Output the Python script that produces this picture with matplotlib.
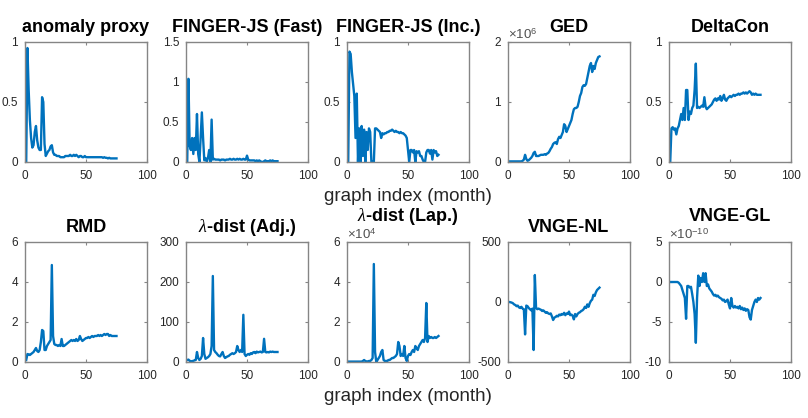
import numpy as np
import matplotlib
matplotlib.use('Agg')
import matplotlib.pyplot as plt

# graph index (month)
months = np.arange(1, 76)

anomaly_proxy = [0.0, 0.95, 0.6, 0.35, 0.2, 0.12, 0.14, 0.25, 0.3, 0.18,
                 0.12, 0.1, 0.1, 0.54, 0.5, 0.15, 0.05, 0.07, 0.09, 0.1,
                 0.13, 0.14, 0.08, 0.06, 0.06, 0.05, 0.05, 0.05, 0.04, 0.04,
                 0.04, 0.04, 0.05, 0.05, 0.05, 0.05, 0.06, 0.05, 0.05, 0.06,
                 0.05, 0.06, 0.05, 0.04, 0.05, 0.05, 0.04, 0.04, 0.05, 0.04,
                 0.04, 0.04, 0.04, 0.04, 0.04, 0.04, 0.04, 0.04, 0.04, 0.04,
                 0.04, 0.04, 0.04, 0.035, 0.04, 0.035, 0.035, 0.03, 0.035, 0.03,
                 0.03, 0.03, 0.03, 0.03, 0.03]

finger_fast = [0.0, 1.04, 0.2, 0.15, 0.3, 0.1, 0.3, 0.15, 0.6, 0.1,
               0.0, 0.3, 0.62, 0.3, 0.02, 0.05, 0.0, 0.05, 0.15, 0.0,
               0.53, 0.03, 0.04, 0.03, 0.03, 0.03, 0.03, 0.02, 0.03, 0.03,
               0.03, 0.02, 0.03, 0.03, 0.03, 0.04, 0.03, 0.03, 0.04, 0.03,
               0.03, 0.04, 0.03, 0.04, 0.03, 0.03, 0.04, 0.03, 0.03, 0.08,
               0.03, 0.02, 0.02, 0.02, 0.02, 0.02, 0.01, 0.02, 0.01, 0.02,
               0.01, 0.0, 0.0, 0.01, 0.02, 0.01, 0.01, 0.01, 0.02, 0.01,
               0.02, 0.01, 0.01, 0.01, 0.01]

finger_inc = [0.0, 0.92, 0.9, 0.75, 0.65, 0.55, 0.2, 0.57, 0.0, 0.28,
              0.0, 0.3, 0.05, 0.27, 0.0, 0.25, 0.1, 0.28, 0.25, 0.0,
              0.0, 0.0, 0.28, 0.28, 0.27, 0.26, 0.25, 0.2, 0.24, 0.23,
              0.24, 0.24, 0.25, 0.25, 0.26, 0.26, 0.27, 0.26, 0.25, 0.26,
              0.25, 0.25, 0.24, 0.25, 0.24, 0.24, 0.23, 0.22, 0.2, 0.1,
              0.0, 0.1, 0.1, 0.08, 0.1, 0.0, 0.09, 0.08, 0.09, 0.05,
              0.05, 0.02, 0.0, 0.0, 0.08, 0.1, 0.1, 0.07, 0.1, 0.02,
              0.1, 0.08, 0.09, 0.05, 0.06]

# GED in units of 1e6
ged = [0.01, 0.01, 0.01, 0.01, 0.01, 0.01, 0.01, 0.01, 0.01, 0.01,
       0.01, 0.02, 0.04, 0.12, 0.05, 0.02, 0.03, 0.05, 0.07, 0.1,
       0.15, 0.17, 0.1, 0.1, 0.1, 0.11, 0.12, 0.12, 0.12, 0.13,
       0.12, 0.14, 0.15, 0.18, 0.22, 0.25, 0.3, 0.32, 0.33, 0.3,
       0.38, 0.42, 0.4, 0.45, 0.5, 0.63, 0.6, 0.5, 0.55, 0.6,
       0.65, 0.7, 0.8, 0.88, 0.9, 0.9, 0.92, 1.0, 1.1, 1.15,
       1.25, 1.28, 1.27, 1.3, 1.4, 1.5, 1.6, 1.65, 1.5, 1.6,
       1.55, 1.65, 1.7, 1.75, 1.76]

deltacon = [0.0, 0.28, 0.29, 0.27, 0.28, 0.23, 0.28, 0.3, 0.35, 0.4,
            0.35, 0.45, 0.35, 0.6, 0.6, 0.35, 0.42, 0.4, 0.45, 0.47,
            0.6, 0.82, 0.45, 0.46, 0.45, 0.46, 0.47, 0.46, 0.54, 0.46,
            0.44, 0.45, 0.46, 0.47, 0.48, 0.5, 0.52, 0.53, 0.51, 0.53,
            0.52, 0.55, 0.51, 0.53, 0.56, 0.52, 0.51, 0.53, 0.54, 0.55,
            0.54, 0.55, 0.56, 0.55, 0.56, 0.56, 0.57, 0.56, 0.57, 0.57,
            0.58, 0.57, 0.58, 0.57, 0.58, 0.59, 0.58, 0.56, 0.57, 0.56,
            0.57, 0.56, 0.56, 0.56, 0.56]

rmd = [0.1, 0.4, 0.38, 0.35, 0.4, 0.45, 0.5, 0.6, 0.7, 0.55,
       0.5, 0.6, 1.0, 1.6, 1.55, 0.6, 0.6, 0.8, 0.9, 1.0,
       1.1, 4.85, 1.3, 0.9, 0.85, 0.85, 0.8, 0.85, 0.8, 1.15,
       0.8, 0.8, 0.85, 0.9, 0.95, 1.0, 1.05, 1.1, 1.05, 1.1,
       1.05, 1.15, 1.05, 1.1, 1.3, 1.15, 1.05, 1.1, 1.15, 1.2,
       1.2, 1.25, 1.2, 1.25, 1.3, 1.25, 1.3, 1.3, 1.3, 1.35,
       1.3, 1.35, 1.3, 1.35, 1.4, 1.35, 1.4, 1.4, 1.3, 1.35,
       1.3, 1.3, 1.3, 1.3, 1.3]

lambda_adj = [5, 6, 3, 2, 2, 3, 4, 5, 25, 10,
              5, 8, 15, 60, 20, 8, 10, 12, 15, 20,
              40, 215, 30, 25, 22, 18, 15, 14, 20, 25,
              15, 10, 12, 14, 15, 18, 20, 22, 20, 22,
              25, 40, 30, 25, 30, 25, 118, 20, 15, 18,
              20, 18, 22, 20, 24, 25, 22, 26, 24, 25,
              26, 24, 25, 58, 25, 24, 25, 24, 26, 25,
              26, 25, 25, 25, 25]

# lambda-dist (Lap.) in units of 1e4
lambda_lap = [0.02, 0.02, 0.02, 0.02, 0.02, 0.02, 0.02, 0.02, 0.02, 0.02,
              0.02, 0.02, 0.05, 0.1, 0.05, 0.03, 0.03, 0.05, 0.05, 0.1,
              0.2, 4.9, 0.5, 0.0, 0.1, 0.2, 0.3, 0.5, 0.6, 0.1,
              0.05, 0.05, 0.05, 0.1, 0.1, 0.15, 0.2, 0.2, 0.25, 0.3,
              0.4, 1.0, 0.8, 0.3, 0.4, 0.3, 0.8, 0.2, 0.05, 0.3,
              0.4, 0.35, 0.5, 0.6, 0.5, 0.8, 0.7, 0.6, 0.8, 0.9,
              1.0, 1.1, 1.0, 1.2, 2.95, 1.0, 1.3, 1.2, 1.25, 1.2,
              1.2, 1.25, 1.2, 1.25, 1.3]

vnge_nl = [0, -2, -5, -10, -20, -25, -35, -30, -45, -50,
           -40, -55, -60, -270, -30, -35, -50, -60, -70, -55,
           -400, 225, -50, -60, -55, -60, -65, -75, -70, -80,
           -90, -85, -95, -100, -95, -120, -150, -130, -125, -115,
           -120, -105, -110, -100, -105, -90, -110, -95, -100, -80,
           -110, -105, -115, -145, -100, -120, -100, -90, -85, -75,
           -70, -60, -40, -50, -20, -40, -10, 10, 20, 60,
           50, 80, 100, 110, 120]

# VNGE-GL in units of 1e-10
vnge_gl = [0.0, 0.0, 0.0, 0.0, 0.0, 0.0, 0.0, -0.1, -0.3, -0.5,
           -1.0, -1.5, -2.0, -4.6, -0.5, -0.5, -0.7, -0.6, -1.5, -2.5,
           -4.0, -7.6, -2.0, 0.8, -0.5, 0.5, 0.0, 1.1, 0.0, 1.1,
           -0.5, -0.3, -0.8, -1.0, -1.2, -1.5, -1.7, -1.6, -1.8, -1.7,
           -1.9, -2.0, -2.1, -2.3, -2.2, -2.5, -2.4, -2.2, -2.8, -3.3,
           -2.0, -3.0, -3.2, -3.0, -3.2, -3.1, -3.3, -3.0, -3.4, -3.2,
           -3.5, -3.3, -3.6, -3.4, -3.5, -4.4, -4.7, -3.5, -3.0, -2.5,
           -2.2, -2.5, -2.0, -2.2, -2.0]

titles = ['anomaly proxy', 'FINGER-JS (Fast)', 'FINGER-JS (Inc.)', 'GED', 'DeltaCon',
          'RMD', r'$\lambda$-dist (Adj.)', r'$\lambda$-dist (Lap.)', 'VNGE-NL', 'VNGE-GL']
series = [anomaly_proxy, finger_fast, finger_inc, ged, deltacon,
          rmd, lambda_adj, lambda_lap, vnge_nl, vnge_gl]
yticks = [[0, 0.5, 1], [0, 0.5, 1, 1.5], [0, 0.5, 1], [0, 1, 2], [0, 0.5, 1],
          [0, 2, 4, 6], [0, 100, 200, 300], [0, 2, 4, 6], [-500, 0, 500], [-10, -5, 0, 5]]
multipliers = [None, None, None, r'$\times10^{6}$', None,
               None, None, r'$\times10^{4}$', None, r'$\times10^{-10}$']

W, H = 808, 418
plt.rcParams['font.family'] = ['Liberation Sans', 'DejaVu Sans']
plt.rcParams['mathtext.fontset'] = 'custom'
plt.rcParams['mathtext.rm'] = 'Liberation Sans'
plt.rcParams['mathtext.it'] = 'Liberation Serif:italic'
plt.rcParams['mathtext.bf'] = 'Liberation Sans:bold'

fig = plt.figure(figsize=(W / 100, H / 100), dpi=100)
edge = '#858585'
txt = '#262626'

for i in range(10):
    row, col = divmod(i, 5)
    left = 25 + 161 * col
    top = 42 + 200 * row
    ax = fig.add_axes([left / W, 1 - (top + 120) / H, 122 / W, 120 / H])
    ax.plot(months, series[i], color='#0072BD', lw=1.7)
    ax.set_xlim(0, 100)
    ax.set_ylim(yticks[i][0], yticks[i][-1])
    ax.set_xticks([0, 50, 100])
    ax.set_yticks(yticks[i])
    ax.set_yticklabels([f'{v:g}' for v in yticks[i]])
    ax.tick_params(direction='in', length=2.5, width=0.8, color=edge,
                   labelsize=8.5, labelcolor=txt, top=True, right=True)
    ax.tick_params(axis='x', pad=6)
    ax.tick_params(axis='y', pad=5)
    for s in ax.spines.values():
        s.set_color(edge)
        s.set_linewidth(1.0)
    pad = 15 if (multipliers[i] and row == 1) else 7
    ax.set_title(titles[i], fontsize=13, fontweight='bold', pad=pad)
    if multipliers[i]:
        ax.text(0.0, 1.0, multipliers[i], transform=ax.transAxes, fontsize=9.5,
                color='#505050', ha='left', va='bottom')
    if col == 2:
        ax.set_xlabel('graph index (month)', fontsize=13.5, color=txt, labelpad=4)

fig.savefig('out.png', dpi=100)
